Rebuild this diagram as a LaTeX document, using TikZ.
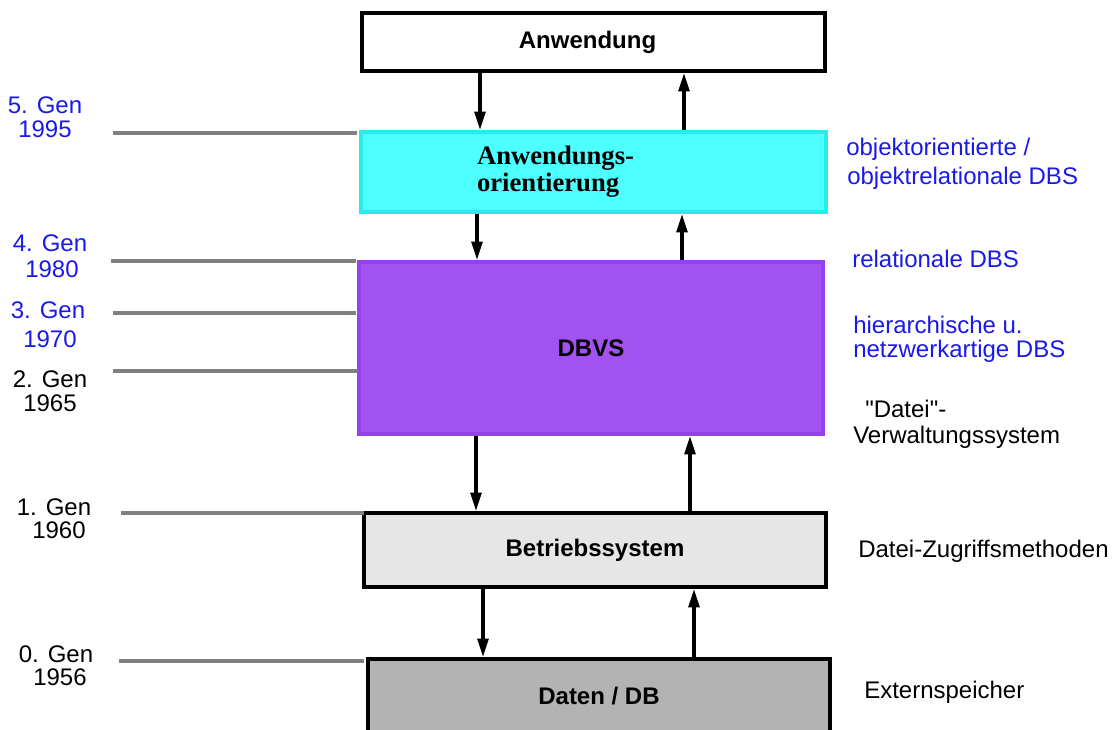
\documentclass[tikz,border=0pt]{standalone}
\usepackage{fontspec}
% plain family: straight quotation marks are kept as typed
\newfontfamily\labelfont{Liberation Sans}
\newfontfamily\timesfont{Liberation Serif}
\usetikzlibrary{arrows.meta}

\definecolor{genblue}{RGB}{25,25,235}
\definecolor{aorfill}{RGB}{77,255,255}
\definecolor{aordraw}{RGB}{40,235,235}
\definecolor{dbvsfill}{RGB}{163,82,242}
\definecolor{dbvsdraw}{RGB}{150,66,236}
\definecolor{osfill}{RGB}{230,230,230}
\definecolor{datafill}{RGB}{179,179,179}
\definecolor{rulegray}{RGB}{128,128,128}

\begin{document}
\begin{tikzpicture}[x=0.75pt,y=-0.75pt,
  layer/.style={draw=black, line width=2.6pt, rectangle, inner sep=0pt,
    font=\labelfont\fontsize{18}{18}\selectfont\bfseries},
  arr/.style={line width=2.6pt, -{Triangle[length=14pt,width=8pt]}},
  genline/.style={rulegray, line width=2.4pt},
  lbl/.style={font=\labelfont\fontsize{18}{18}\selectfont, inner sep=0pt},
]
\clip (0,0) rectangle (1118,729);

% layers of the architecture
\node[layer, fill=white, minimum width=347.25pt, minimum height=43.5pt]
  (app) at (593.5,42) {\hspace*{-9pt}Anwendung};
\node[layer, draw=aordraw, fill=aorfill, minimum width=348.75pt, minimum height=60pt,
  inner xsep=87pt, text width=174.75pt, align=left,
  font=\timesfont\fontsize{20}{20.5}\selectfont\bfseries]
  (aor) at (593.5,172) {Anwendungs-\\orientierung};
\node[layer, draw=dbvsdraw, fill=dbvsfill, minimum width=348pt, minimum height=129pt]
  (dbvs) at (591,348) {\raisebox{-3pt}{DBVS}};
\node[layer, fill=osfill, minimum width=346.5pt, minimum height=55.5pt]
  (os) at (595,550) {Betriebssystem};
\node[layer, fill=datafill, minimum width=346.5pt, minimum height=55.5pt]
  (data) at (599,696) {Daten / DB};

% calls downwards, results upwards
\draw[arr] (480,0 |- app.south) -- (480,0 |- aor.north);
\draw[arr] (684,0 |- aor.north) -- (684,0 |- app.south);
\draw[arr] (477,0 |- aor.south) -- (477,0 |- dbvs.north);
\draw[arr] (682,0 |- dbvs.north) -- (682,0 |- aor.south);
\draw[arr] (476,0 |- dbvs.south) -- (476,0 |- os.north);
\draw[arr] (690,0 |- os.north) -- (690,0 |- dbvs.south);
\draw[arr] (483,0 |- os.south) -- (483,0 |- data.north);
\draw[arr] (694,0 |- data.north) -- (694,0 |- os.south);

% generation marks
\draw[genline] (113,133) -- (357,133);
\draw[genline] (111,261) -- (356,261);
\draw[genline] (113,313) -- (356,313);
\draw[genline] (113,371) -- (358,371);
\draw[genline] (121,513) -- (364,513);
\draw[genline] (119,661) -- (364,661);

% generations and years
\node[lbl, genblue, anchor=base] (g5) at (45,113) {5. Gen};
\node[lbl, genblue, anchor=base] (y5) at (45,137) {1995};
\node[lbl, genblue, anchor=base] (g4) at (50,251) {4. Gen};
\node[lbl, genblue, anchor=base] (y4) at (52,277) {1980};
\node[lbl, genblue, anchor=base] (g3) at (48,318) {3. Gen};
\node[lbl, genblue, anchor=base] (y3) at (50,347) {1970};
\node[lbl, anchor=base] (g2) at (50,387) {2. Gen};
\node[lbl, anchor=base] (y2) at (50,411) {1965};
\node[lbl, anchor=base] (g1) at (54,515) {1. Gen};
\node[lbl, anchor=base] (y1) at (59,538) {1960};
\node[lbl, anchor=base] (g0) at (56,662) {0. Gen};
\node[lbl, anchor=base] (y0) at (60,685) {1956};

% kinds of systems
\node[lbl, genblue, anchor=base west] (oo1) at (846,155) {objektorientierte /};
\node[lbl, genblue, anchor=base west] (oo2) at (847,184) {objektrelationale DBS};
\node[lbl, genblue, anchor=base west] (rel) at (852,267) {relationale DBS};
\node[lbl, genblue, anchor=base west] (hn1) at (853,333) {hierarchische u.};
\node[lbl, genblue, anchor=base west] (hn2) at (853,357) {netzwerkartige DBS};
\node[lbl, anchor=base west] (fs1) at (865,417) {"Datei"-};
\node[lbl, anchor=base west] (fs2) at (853,443) {Verwaltungssystem};
\node[lbl, anchor=base west] (acc) at (858,557) {Datei-Zugriffsmethoden};
\node[lbl, anchor=base west] (ext) at (864,698) {Externspeicher};
\end{tikzpicture}
\end{document}
